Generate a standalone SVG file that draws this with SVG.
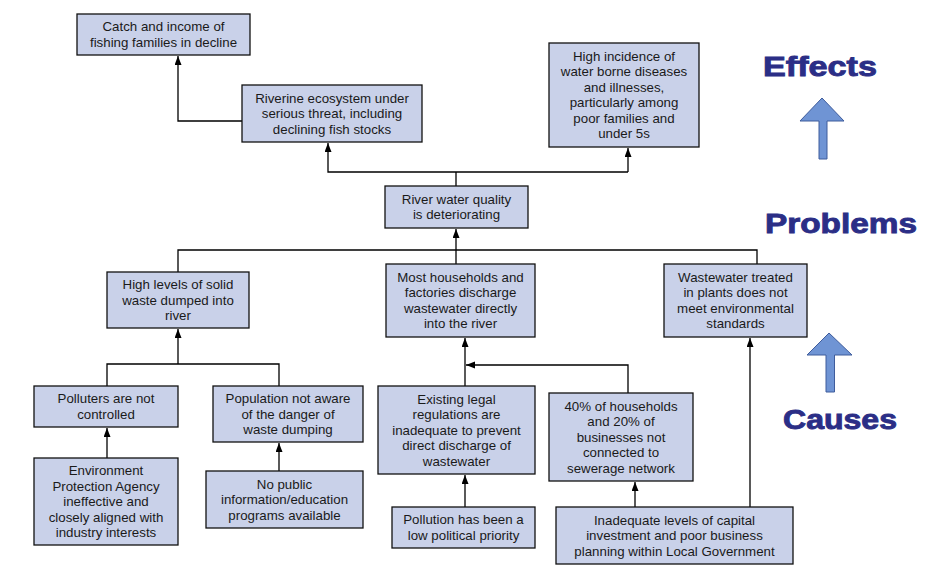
<svg xmlns="http://www.w3.org/2000/svg" width="935" height="578" viewBox="0 0 935 578">
<defs>
<style>
.box{fill:#c9d1e9;stroke:#111;stroke-width:1.3}
.t{font-family:"Liberation Sans",Arial,sans-serif;font-size:13.3px;fill:#1a1a1a;text-anchor:middle}
.c{fill:none;stroke:#000;stroke-width:1.3}
.big{font-family:"Liberation Sans",Arial,sans-serif;font-weight:bold;font-size:28px;fill:#2b2e86;stroke:#2b2e86;stroke-width:0.9}
.barrow{fill:#6f94d4;stroke:#3f5c9c;stroke-width:1}
</style>
<marker id="ah" markerUnits="userSpaceOnUse" markerWidth="10" markerHeight="10" refX="9" refY="3.5" orient="auto">
<path d="M0,0 L9,3.5 L0,7 z" fill="#000"/>
</marker>
</defs>
<rect width="935" height="578" fill="#fff"/>

<g id="connectors">
<path class="c" d="M242,121 H178 V56" marker-end="url(#ah)"/>
<path class="c" d="M628,172 H328 V143" marker-end="url(#ah)"/>
<path class="c" d="M628,172 V148" marker-end="url(#ah)"/>
<path class="c" d="M456,186 V172"/>
<path class="c" d="M456,264 V229" marker-end="url(#ah)"/>
<path class="c" d="M178,272 V250 H757 V264"/>
<path class="c" d="M178,364 V329" marker-end="url(#ah)"/>
<path class="c" d="M107,386 V364 H279 V386"/>
<path class="c" d="M465,386 V338" marker-end="url(#ah)"/>
<path class="c" d="M628,393 V365 H466" marker-end="url(#ah)"/>
<path class="c" d="M465,507 V475" marker-end="url(#ah)"/>
<path class="c" d="M107,458 V428" marker-end="url(#ah)"/>
<path class="c" d="M279,471 V443" marker-end="url(#ah)"/>
<path class="c" d="M635,507 V482" marker-end="url(#ah)"/>
<path class="c" d="M750,507 V338" marker-end="url(#ah)"/>
</g>

<g id="catch">
<rect class="box" x="77" y="14" width="173" height="41"/>
<text class="t" x="163.5" y="31.3">Catch and income of</text>
<text class="t" x="163.5" y="46.8">fishing families in decline</text>
</g>

<g id="riverine">
<rect class="box" x="242" y="85" width="180" height="57"/>
<text class="t" x="332" y="102.6">Riverine ecosystem under</text>
<text class="t" x="332" y="118.1">serious threat, including</text>
<text class="t" x="332" y="133.6">declining fish stocks</text>
</g>

<g id="disease">
<rect class="box" x="549" y="43" width="150" height="104"/>
<text class="t" x="624" y="60.8">High incidence of</text>
<text class="t" x="624" y="76.3">water borne diseases</text>
<text class="t" x="624" y="91.8">and illnesses,</text>
<text class="t" x="624" y="107.3">particularly among</text>
<text class="t" x="624" y="122.8">poor families and</text>
<text class="t" x="624" y="138.3">under 5s</text>
</g>

<g id="quality">
<rect class="box" x="385" y="186" width="143" height="42"/>
<text class="t" x="456.5" y="203.8">River water quality</text>
<text class="t" x="456.5" y="219.3">is deteriorating</text>
</g>

<g id="solid">
<rect class="box" x="107" y="272" width="142" height="56"/>
<text class="t" x="178" y="289">High levels of solid</text>
<text class="t" x="178" y="304.5">waste dumped into</text>
<text class="t" x="178" y="320">river</text>
</g>

<g id="households">
<rect class="box" x="386" y="264" width="149" height="73"/>
<text class="t" x="460.5" y="281.8">Most households and</text>
<text class="t" x="460.5" y="297.3">factories discharge</text>
<text class="t" x="460.5" y="312.8">wastewater directly</text>
<text class="t" x="460.5" y="328.3">into the river</text>
</g>

<g id="treated">
<rect class="box" x="664" y="264" width="143" height="73"/>
<text class="t" x="735.5" y="281.8">Wastewater  treated</text>
<text class="t" x="735.5" y="297.3">in plants does not</text>
<text class="t" x="735.5" y="312.8">meet environmental</text>
<text class="t" x="735.5" y="328.3">standards</text>
</g>

<g id="polluters">
<rect class="box" x="34" y="386" width="144" height="41"/>
<text class="t" x="106" y="403.4">Polluters are not</text>
<text class="t" x="106" y="418.9">controlled</text>
</g>

<g id="population">
<rect class="box" x="213" y="386" width="150" height="56"/>
<text class="t" x="288" y="403.1">Population not aware</text>
<text class="t" x="288" y="418.6">of the danger of</text>
<text class="t" x="288" y="434.1">waste dumping</text>
</g>

<g id="legal">
<rect class="box" x="378" y="386" width="157" height="88"/>
<text class="t" x="456.5" y="403.6">Existing legal</text>
<text class="t" x="456.5" y="419.1">regulations are</text>
<text class="t" x="456.5" y="434.6">inadequate to prevent</text>
<text class="t" x="456.5" y="450.1">direct discharge of</text>
<text class="t" x="456.5" y="465.6">wastewater</text>
</g>

<g id="sewerage">
<rect class="box" x="549" y="393" width="144" height="88"/>
<text class="t" x="621" y="410.6">40% of households</text>
<text class="t" x="621" y="426.1">and 20% of</text>
<text class="t" x="621" y="441.6">businesses not</text>
<text class="t" x="621" y="457.1">connected to</text>
<text class="t" x="621" y="472.6">sewerage network</text>
</g>

<g id="epa">
<rect class="box" x="34" y="458" width="144" height="87"/>
<text class="t" x="106" y="475.1">Environment</text>
<text class="t" x="106" y="490.6">Protection Agency</text>
<text class="t" x="106" y="506.1">ineffective and</text>
<text class="t" x="106" y="521.6">closely aligned with</text>
<text class="t" x="106" y="537.1">industry interests</text>
</g>

<g id="nopublic">
<rect class="box" x="206" y="471" width="157" height="57"/>
<text class="t" x="284.5" y="488.6">No public</text>
<text class="t" x="284.5" y="504.1">information/education</text>
<text class="t" x="284.5" y="519.6">programs available</text>
</g>

<g id="priority">
<rect class="box" x="392" y="507" width="143" height="41"/>
<text class="t" x="463.5" y="524.4">Pollution has been a</text>
<text class="t" x="463.5" y="539.9">low political priority</text>
</g>

<g id="capital">
<rect class="box" x="556" y="507" width="237" height="57"/>
<text class="t" x="674.5" y="524.6">Inadequate levels of capital</text>
<text class="t" x="674.5" y="540.1">investment and poor business</text>
<text class="t" x="674.5" y="555.6">planning within Local Government</text>
</g>

<g id="legend">
<text class="big" x="763" y="76" textLength="114" lengthAdjust="spacingAndGlyphs">Effects</text>
<path class="barrow" d="M822,98 L844,121 L827,121 L827,159 L819,159 L819,121 L800,121 Z"/>
<text class="big" x="765" y="233" textLength="152" lengthAdjust="spacingAndGlyphs">Problems</text>
<path class="barrow" d="M829,333 L852,355 L834.5,355 L834.5,392 L826,392 L826,355 L807,355 Z"/>
<text class="big" x="783" y="429" textLength="114" lengthAdjust="spacingAndGlyphs">Causes</text>
</g>
</svg>
